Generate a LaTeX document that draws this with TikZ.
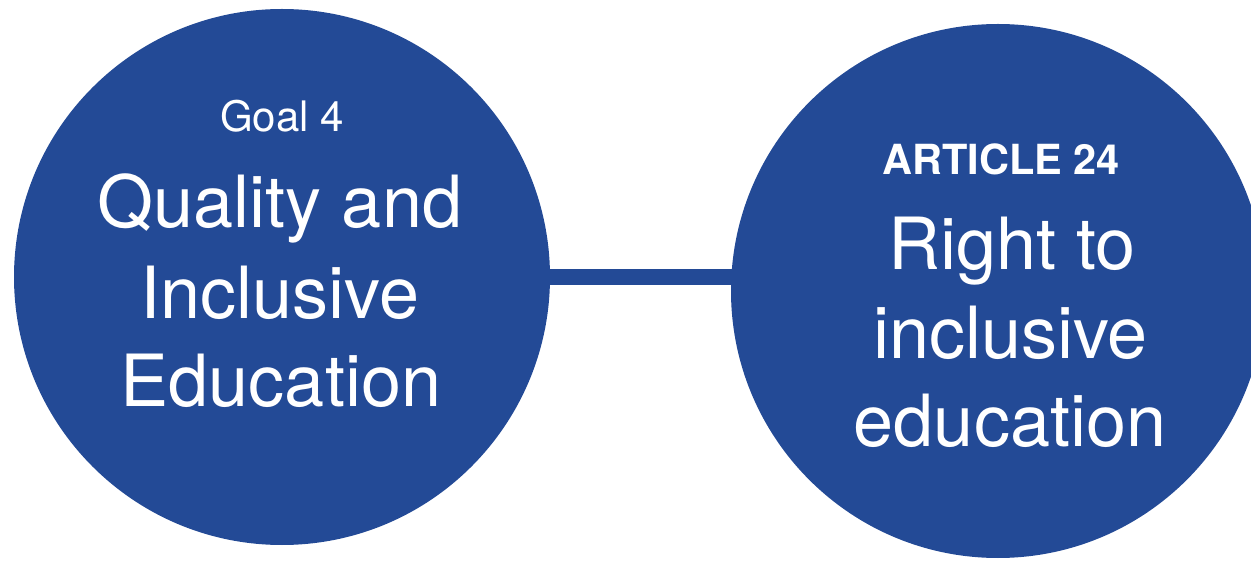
\documentclass[tikz,border=0pt]{standalone}
\usepackage{fontspec}
\setmainfont{TeX Gyre Heros}
\definecolor{unblue}{RGB}{35,74,150}
\begin{document}
\begin{tikzpicture}[x=1pt,y=-1pt,
  disc/.style={circle, fill=unblue, draw=none, inner sep=0pt, minimum size=#1},
  conn/.style={draw=unblue, line width=16pt},
  bigtxt/.style={text=white, anchor=base, inner sep=0pt, font=\fontsize{72}{89}\selectfont},
  smalltxt/.style={text=white, anchor=base, inner sep=0pt, font=\fontsize{42}{50}\selectfont},
  boldtxt/.style={text=white, anchor=base, inner sep=0pt, font=\fontsize{41.5}{48}\selectfont\bfseries}]
\useasboundingbox (0,0) rectangle (1251,561);
\coordinate (cL) at (282,277);
\coordinate (cR) at (998,291);
\draw[conn] (cL) -- (cL -| cR);
\node[disc=536pt] (L) at (cL) {};
\node[disc=534pt] (R) at (cR) {};
% left texts
\node[smalltxt] (goal) at (282,131.7) {Goal 4};
\node[bigtxt] (l1) at (280,228) {Quality and};
\node[bigtxt] (l2) at (280,318.3) {Inclusive};
\node[bigtxt] (l3) at (281,406.7) {Education};
% right texts
\node[boldtxt] (art) at (1001,175) {ARTICLE 24};
\node[bigtxt] (r1) at (1012,269.3) {Right to};
\node[bigtxt] (r2) at (1010.5,358.3) {inclusive};
\node[bigtxt] (r3) at (1010,446.7) {education};
\end{tikzpicture}
\end{document}
